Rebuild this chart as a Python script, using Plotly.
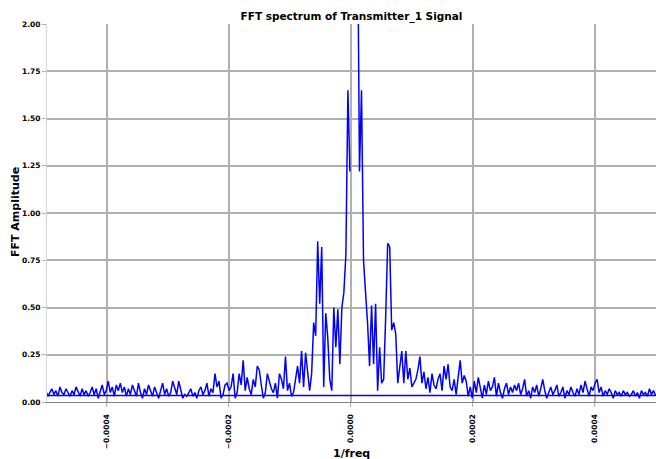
import numpy as np
import plotly.graph_objects as go

# frequency bins (1/freq axis), spacing and starts of each half of the spectrum
freq_step = 3.3e-6
pos_start = 1.08e-5
neg_end = -1.6e-6

# positive half, from the centre outward
pos_amp = [2.6, 1.22, 1.65, 0.75, 0.58, 0.42, 0.19, 0.51, 0.2, 0.52,
           0.06, 0.29, 0.1, 0.12, 0.45, 0.84, 0.82, 0.38, 0.42, 0.36,
           0.1, 0.2, 0.27, 0.1, 0.27, 0.12, 0.18, 0.08, 0.1, 0.12,
           0.17, 0.24, 0.1, 0.16, 0.07, 0.13, 0.05, 0.15, 0.09, 0.07,
           0.12, 0.15, 0.06, 0.19, 0.12, 0.2, 0.08, 0.06, 0.12, 0.04,
           0.13, 0.22, 0.1, 0.14, 0.11, 0.03, 0.08, 0.02, 0.11, 0.05,
           0.13, 0.07, 0.02, 0.09, 0.04, 0.11, 0.06, 0.08, 0.13, 0.03,
           0.1, 0.05, 0.02, 0.07, 0.1, 0.04, 0.08, 0.05, 0.09, 0.06,
           0.1, 0.04, 0.07, 0.12, 0.03, 0.06, 0.02, 0.08, 0.05, 0.09,
           0.03, 0.07, 0.12, 0.06, 0.02, 0.05, 0.08, 0.04, 0.06, 0.09,
           0.03, 0.05, 0.08, 0.02, 0.06, 0.04, 0.08, 0.05, 0.03, 0.07,
           0.04, 0.09, 0.05, 0.11, 0.07, 0.03, 0.08, 0.06, 0.1, 0.12,
           0.05, 0.08, 0.03, 0.06, 0.04, 0.07, 0.05, 0.02, 0.06, 0.04,
           0.05, 0.03, 0.06, 0.04, 0.05, 0.03, 0.04, 0.06, 0.03, 0.05,
           0.02, 0.06, 0.04, 0.05, 0.03, 0.07, 0.04, 0.06, 0.035]

# negative half, from the centre outward
neg_amp_inner_out = [1.22, 1.65, 0.78, 0.58, 0.5, 0.2, 0.49, 0.29, 0.5, 0.06,
                     0.12, 0.34, 0.47, 0.08, 0.82, 0.52, 0.85, 0.35, 0.42, 0.15,
                     0.06, 0.16, 0.26, 0.08, 0.27, 0.1, 0.19, 0.12, 0.05, 0.03,
                     0.1, 0.06, 0.24, 0.07, 0.12, 0.15, 0.02, 0.1, 0.05, 0.07,
                     0.11, 0.15, 0.05, 0.02, 0.09, 0.17, 0.19, 0.08, 0.12, 0.04,
                     0.07, 0.13, 0.06, 0.22, 0.09, 0.15, 0.05, 0.02, 0.15, 0.08,
                     0.06, 0.1, 0.09, 0.04, 0.02, 0.11, 0.08, 0.15, 0.05, 0.07,
                     0.03, 0.1, 0.06, 0.04, 0.08, 0.06, 0.02, 0.05, 0.03, 0.07,
                     0.05, 0.03, 0.04, 0.02, 0.06, 0.11, 0.04, 0.08, 0.11, 0.05,
                     0.03, 0.07, 0.04, 0.1, 0.06, 0.02, 0.05, 0.08, 0.03, 0.06,
                     0.09, 0.04, 0.07, 0.02, 0.05, 0.1, 0.03, 0.06, 0.09, 0.04,
                     0.07, 0.03, 0.08, 0.05, 0.1, 0.06, 0.09, 0.03, 0.08, 0.05,
                     0.11, 0.06, 0.04, 0.09, 0.05, 0.02, 0.07, 0.04, 0.08, 0.05,
                     0.03, 0.06, 0.04, 0.07, 0.03, 0.05, 0.08, 0.04, 0.06, 0.03,
                     0.05, 0.07, 0.04, 0.05, 0.08, 0.03, 0.06, 0.04, 0.07, 0.05,
                     0.03, 0.06, 0.035]

x_tickvals = [-0.0004, -0.0002, 0.0, 0.0002, 0.0004]
x_ticktext = ["\u22120.0004", "\u22120.0002", "0.0000", "0.0002", "0.0004"]
y_tickvals = [0.0, 0.25, 0.5, 0.75, 1.0, 1.25, 1.5, 1.75, 2.0]
y_ticktext = ["0.00", "0.25", "0.50", "0.75", "1.00", "1.25", "1.50", "1.75", "2.00"]

pos_x = pos_start + freq_step * np.arange(len(pos_amp))
neg_amp = neg_amp_inner_out[::-1]
neg_x = neg_end - freq_step * np.arange(len(neg_amp_inner_out))[::-1]

x_all = np.concatenate([pos_x, neg_x])
y_all = np.concatenate([pos_amp, neg_amp])

FONT = "DejaVu Sans"

fig = go.Figure()
fig.add_trace(go.Scatter(x=x_all, y=y_all, mode="lines",
                         line=dict(color="#0000ff", width=1.5),
                         showlegend=False, hoverinfo="skip"))

fig.update_layout(
    width=656, height=459,
    margin=dict(l=47, r=0, t=24, b=57),
    paper_bgcolor="white", plot_bgcolor="white",
    font=dict(family=FONT, color="black"),
    title=dict(text="<b>FFT spectrum of Transmitter_1 Signal</b>",
               x=0.5, xref="paper", xanchor="center",
               y=1 - 16 / 459, yref="container", yanchor="middle",
               font=dict(size=10.5, family=FONT)),
    xaxis=dict(range=[-0.000498, 0.0005], tickvals=x_tickvals,
               ticktext=["<b>%s</b>" % t for t in x_ticktext],
               tickangle=-90, tickfont=dict(size=7.5, family=FONT),
               ticklabelstandoff=4,
               showgrid=True, gridcolor="#b0b0b0", gridwidth=2,
               ticks="outside", ticklen=4, tickcolor="#b0b0b0",
               showline=True, linecolor="#808080", linewidth=1,
               zeroline=False),
    yaxis=dict(range=[0, 2.0], tickvals=y_tickvals,
               ticktext=["<b>%s</b>" % t for t in y_ticktext],
               tickfont=dict(size=7.5, family=FONT),
               showgrid=True, gridcolor="#b0b0b0", gridwidth=2,
               ticks="outside", ticklen=4, tickcolor="#b0b0b0",
               showline=True, linecolor="#d8d8d8", linewidth=1,
               zeroline=False),
    annotations=[
        dict(text="<b>1/freq</b>", x=0.5, xref="paper", y=-(453 - 402) / 378, yref="paper",
             xanchor="center", yanchor="middle", showarrow=False,
             font=dict(size=11, family=FONT)),
        dict(text="<b>FFT Amplitude</b>", x=(15 - 47) / 609, xref="paper", y=(402 - 212) / 378,
             yref="paper", xanchor="center", yanchor="middle", textangle=-90,
             showarrow=False, font=dict(size=11, family=FONT)),
    ],
)

fig.write_html("out.html")
